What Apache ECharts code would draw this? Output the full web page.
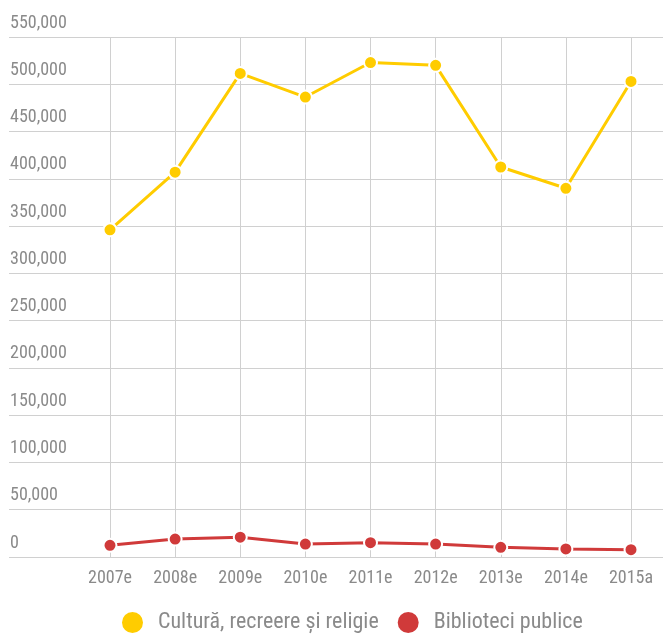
<!DOCTYPE html>
<html>
<head>
<meta charset="utf-8">
<script src="https://cdn.jsdelivr.net/npm/echarts@6/dist/echarts.min.js"></script>
<style>
  html, body { margin: 0; padding: 0; background: #fff; }
  #chart { width: 663px; height: 635px; }
</style>
</head>
<body>
<div id="chart"></div>
<script>
// Years on the horizontal axis (e = estimate, a = actual)
const years = ['2007e', '2008e', '2009e', '2010e', '2011e', '2012e', '2013e', '2014e', '2015a'];

// Spending series
const culturaRecreereReligie = [346000, 407000, 511500, 486500, 523000, 520000, 412500, 390000, 503000];
const bibliotecaPublice = [12400, 19000, 21000, 13700, 15200, 13700, 10200, 8500, 7800];

// Value axis ticks
const yTicks = [0, 50000, 100000, 150000, 200000, 250000, 300000, 350000, 400000, 450000, 500000, 550000];

const seriesNames = ['Cultură, recreere și religie', 'Biblioteci publice'];
const colors = ['#FFCC00', '#D03A3A'];

const FONT = '"Roboto Condensed", "Open Sans", sans-serif';
const TEXT = '#8a8a8a';
const GRID = '#d0d0d0';

const yMin = yTicks[0];
const yMax = yTicks[yTicks.length - 1];
const yStep = yTicks[1] - yTicks[0];

const fmt = v => v.toLocaleString('en-US');

const chart = echarts.init(document.getElementById('chart'), null, { renderer: 'canvas' });

const lineSeries = (name, data, color) => ({
  name,
  type: 'line',
  xAxisIndex: 1,
  yAxisIndex: 1,
  data,
  symbol: 'circle',
  symbolSize: 13,
  showSymbol: true,
  lineStyle: { color, width: 3 },
  itemStyle: { color, borderColor: '#fff', borderWidth: 2 },
  emphasis: { disabled: true },
  animation: false
});

chart.setOption({
  backgroundColor: '#fff',
  animation: false,
  grid: [
    // full-width grid carrying the horizontal rules and value labels
    { left: 9, right: 0, top: 37, bottom: 78 },
    // plotting grid aligned to the category positions
    { left: 110, right: 32, top: 37, bottom: 78 }
  ],
  legend: {
    top: 610,
    left: 120,
    padding: 0,
    icon: 'circle',
    itemWidth: 23,
    itemHeight: 23,
    itemGap: 17,
    textStyle: { fontFamily: FONT, fontSize: 22, color: TEXT, padding: [0, 0, 0, 9] },
    data: seriesNames
  },
  xAxis: [
    {
      gridIndex: 0,
      type: 'value',
      show: false
    },
    {
      gridIndex: 1,
      type: 'category',
      data: years,
      boundaryGap: false,
      axisLine: { show: false },
      axisTick: { show: false },
      splitLine: { show: true, interval: 0, lineStyle: { color: GRID, width: 1 } },
      axisLabel: { interval: 0, fontFamily: FONT, fontSize: 18, color: TEXT, margin: 12 }
    }
  ],
  yAxis: [
    {
      gridIndex: 0,
      type: 'value',
      min: yMin,
      max: yMax,
      interval: yStep,
      axisLine: { show: false },
      axisTick: { show: false },
      splitLine: { show: true, lineStyle: { color: GRID, width: 1 } },
      axisLabel: {
        inside: true,
        margin: 1,
        align: 'left',
        verticalAlign: 'bottom',
        padding: [0, 0, 5, 0],
        fontFamily: FONT,
        fontSize: 18,
        color: TEXT,
        formatter: v => fmt(v)
      }
    },
    {
      gridIndex: 1,
      type: 'value',
      min: yMin,
      max: yMax,
      interval: yStep,
      show: false,
      splitLine: { show: false }
    }
  ],
  series: [
    lineSeries(seriesNames[0], culturaRecreereReligie, colors[0]),
    lineSeries(seriesNames[1], bibliotecaPublice, colors[1])
  ]
});
</script>
</body>
</html>
